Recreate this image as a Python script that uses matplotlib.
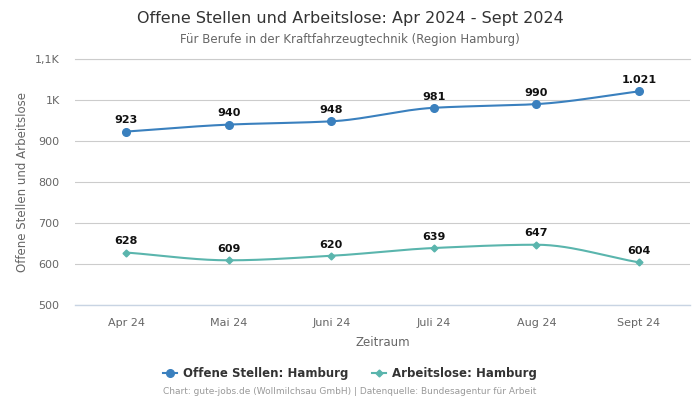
import numpy as np
import matplotlib
matplotlib.use("Agg")
import matplotlib.pyplot as plt
from matplotlib.lines import Line2D

categories = ["Apr 24", "Mai 24", "Juni 24", "Juli 24", "Aug 24", "Sept 24"]
offene = [923, 940, 948, 981, 990, 1021]
arbeitslose = [628, 609, 620, 639, 647, 604]
offene_labels = ["923", "940", "948", "981", "990", "1.021"]
arbeitslose_labels = ["628", "609", "620", "639", "647", "604"]
yticks = [500, 600, 700, 800, 900, 1000, 1100]
ytick_labels = ["500", "600", "700", "800", "900", "1K", "1,1K"]

C_BLUE = "#3a80be"
C_TEAL = "#5ab5ad"


def monotone_curve(x, y, n=30):
    x = np.asarray(x, float); y = np.asarray(y, float)
    h = np.diff(x); d = np.diff(y) / h
    m = np.zeros_like(y)
    m[0] = d[0]; m[-1] = d[-1]
    for i in range(1, len(y) - 1):
        if d[i - 1] * d[i] <= 0:
            m[i] = 0
        else:
            m[i] = 3 * (h[i - 1] + h[i]) / ((2 * h[i] + h[i - 1]) / d[i - 1] + (h[i] + 2 * h[i - 1]) / d[i])
    xs, ys = [], []
    for i in range(len(x) - 1):
        t = np.linspace(0, 1, n)
        h00 = 2 * t**3 - 3 * t**2 + 1
        h10 = t**3 - 2 * t**2 + t
        h01 = -2 * t**3 + 3 * t**2
        h11 = t**3 - t**2
        xs.append(x[i] + t * h[i])
        ys.append(h00 * y[i] + h10 * h[i] * m[i] + h01 * y[i + 1] + h11 * h[i] * m[i + 1])
    return np.concatenate(xs), np.concatenate(ys)


fig = plt.figure(figsize=(7, 4), dpi=100)
ax = fig.add_axes([0.107, 0.2375, 0.879, 0.615])

x = np.arange(len(categories))
for vals, col, mk, ms in [(offene, C_BLUE, "o", 5.5), (arbeitslose, C_TEAL, "D", 3.5)]:
    cx, cy = monotone_curve(x, vals)
    ax.plot(cx, cy, color=col, lw=1.5, zorder=3)
    ax.plot(x, vals, ls="none", marker=mk, ms=ms, color=col, zorder=4)

for xi, v, lab in zip(x, offene, offene_labels):
    ax.annotate(lab, (xi, v), xytext=(0, 4.5), textcoords="offset points",
                ha="center", va="bottom", fontsize=8, fontweight="bold", color="#111")
for xi, v, lab in zip(x, arbeitslose, arbeitslose_labels):
    ax.annotate(lab, (xi, v), xytext=(0, 4.5), textcoords="offset points",
                ha="center", va="bottom", fontsize=8, fontweight="bold", color="#111")

ax.set_xlim(-0.5, len(categories) - 0.5)
ax.set_ylim(500, 1100)
ax.set_yticks(yticks)
ax.set_yticklabels(ytick_labels)
ax.set_xticks(x)
ax.set_xticklabels(categories)
ax.tick_params(length=0, labelsize=8, colors="#666666")
ax.tick_params(axis="x", pad=9)
ax.tick_params(axis="y", pad=11)
ax.grid(axis="y", color="#cccccc", lw=0.8)
ax.set_axisbelow(True)
for s in ax.spines.values():
    s.set_visible(False)
ax.axhline(500, color="#c8d4e3", lw=1, zorder=2, clip_on=False)
ax.axhline(1100, color="#cccccc", lw=0.8, zorder=2, clip_on=False)

ax.set_ylabel("Offene Stellen und Arbeitslose", fontsize=8.5, color="#666666", labelpad=4)
ax.set_xlabel("Zeitraum", fontsize=8.5, color="#666666", labelpad=6)

fig.text(0.5, 0.955, "Offene Stellen und Arbeitslose: Apr 2024 - Sept 2024",
         ha="center", va="center", fontsize=11.5, color="#333333")
fig.text(0.5, 0.902, "Für Berufe in der Kraftfahrzeugtechnik (Region Hamburg)",
         ha="center", va="center", fontsize=8.5, color="#666666")

handles = [Line2D([0], [0], color=C_BLUE, marker="o", ms=5.5, lw=1.5),
           Line2D([0], [0], color=C_TEAL, marker="D", ms=3.5, lw=1.5)]
leg = fig.legend(handles, ["Offene Stellen: Hamburg", "Arbeitslose: Hamburg"],
                 loc="center", bbox_to_anchor=(0.5, 0.067), ncol=2, frameon=False,
                 prop={"size": 8.5, "weight": "bold"}, handlelength=1.2, columnspacing=2.0,
                 handletextpad=0.5)
for t in leg.get_texts():
    t.set_color("#333333")

fig.text(0.5, 0.02, "Chart: gute-jobs.de (Wollmilchsau GmbH) | Datenquelle: Bundesagentur für Arbeit",
         ha="center", va="center", fontsize=6.5, color="#999999")

fig.savefig("out.png", dpi=100)
